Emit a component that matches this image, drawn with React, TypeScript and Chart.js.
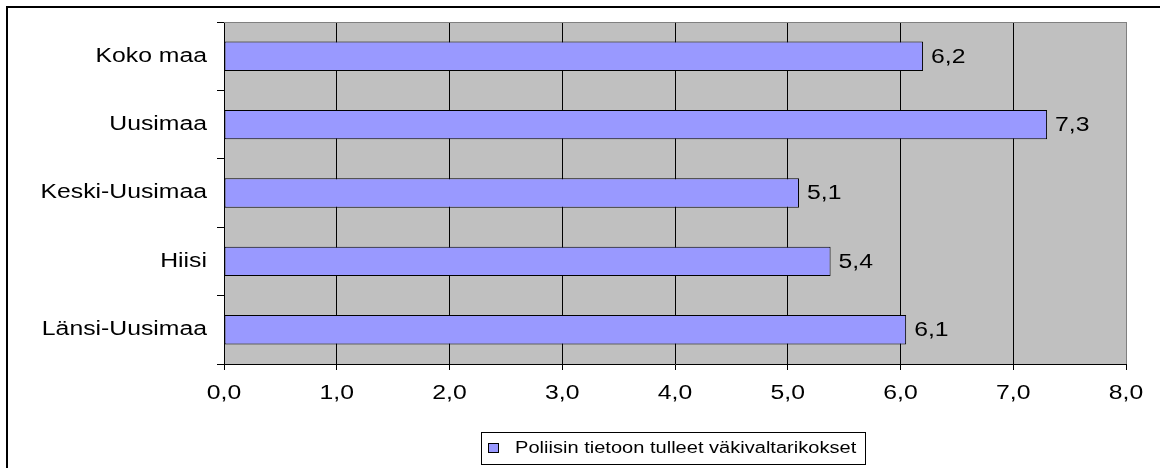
import React, { useEffect, useRef } from "react";
import { Chart, registerables } from "chart.js";

Chart.register(...registerables);

const categories = ["Koko maa", "Uusimaa", "Keski-Uusimaa", "Hiisi", "Länsi-Uusimaa"];
const seriesLabel = "Poliisin tietoon tulleet väkivaltarikokset";
const seriesValues = [6.2, 7.3, 5.1, 5.38, 6.05];
const xTicks = [0, 1, 2, 3, 4, 5, 6, 7, 8];

const FONT = "'Liberation Sans', Arial, sans-serif";
const STRETCH = 1.27;
const BAR = "#9999FF";

function fmt(v: number) {
  return (Math.round(v * 10 + 1e-9) / 10).toFixed(1).replace(".", ",");
}

function stretchedText(ctx: CanvasRenderingContext2D, text: string, x: number, y: number, align: CanvasTextAlign, size: number) {
  ctx.save();
  ctx.translate(x, y);
  ctx.scale(STRETCH, 1);
  ctx.font = `${size}px ${FONT}`;
  ctx.textAlign = align;
  ctx.textBaseline = "middle";
  ctx.fillStyle = "#000";
  ctx.fillText(text, 0, 0);
  ctx.restore();
}

const decorPlugin = {
  id: "decor",
  beforeDraw(chart: any) {
    const { ctx, chartArea: a } = chart;
    ctx.save();
    ctx.fillStyle = "#fff";
    ctx.fillRect(0, 0, chart.width, chart.height);
    ctx.fillStyle = "#C0C0C0";
    ctx.fillRect(a.left, a.top, a.right - a.left, a.bottom - a.top);
    ctx.restore();
  },
  afterDraw(chart: any) {
    const { ctx, chartArea: a } = chart;
    const xs = chart.scales.x;
    const ys = chart.scales.y;
    ctx.save();
    ctx.strokeStyle = "#808080";
    ctx.lineWidth = 1;
    ctx.beginPath();
    ctx.moveTo(a.left, Math.round(a.top) + 0.5);
    ctx.lineTo(a.right + 0.5, Math.round(a.top) + 0.5);
    ctx.stroke();
    ctx.strokeStyle = "#000";
    ctx.lineWidth = 2;
    ctx.beginPath();
    ctx.moveTo(7, chart.height + 5);
    ctx.lineTo(7, 7);
    ctx.lineTo(chart.width + 5, 7);
    ctx.stroke();
    ctx.restore();

    categories.forEach((c, i) => {
      stretchedText(ctx, c, 207, ys.getPixelForValue(i), "right", 19.5);
    });
    xTicks.forEach((v) => {
      stretchedText(ctx, fmt(v), xs.getPixelForValue(v), 393.5, "center", 19.5);
    });
    const meta = chart.getDatasetMeta(0);
    meta.data.forEach((bar: any, i: number) => {
      stretchedText(ctx, fmt(seriesValues[i]), bar.x + 8, bar.y + 1, "left", 19.5);
    });
    ctx.save();
    ctx.strokeStyle = "#000";
    ctx.lineWidth = 1;
    ctx.strokeRect(481.5, 432.5, 384, 32);
    ctx.fillStyle = BAR;
    ctx.fillRect(488.5, 443.5, 10, 9);
    ctx.strokeRect(488.5, 443.5, 10, 9);
    ctx.restore();
    stretchedText(ctx, seriesLabel, 515, 448.5, "left", 15.8);
  },
};

export default function App() {
  const ref = useRef<HTMLCanvasElement>(null);
  useEffect(() => {
    if (!ref.current) return;
    const chart = new Chart(ref.current, {
      type: "bar",
      data: {
        labels: categories,
        datasets: [
          {
            label: seriesLabel,
            data: seriesValues,
            backgroundColor: BAR,
            borderColor: "#000",
            borderWidth: 1,
            borderSkipped: false,
            barPercentage: 0.43,
            categoryPercentage: 1,
          },
        ],
      },
      options: {
        indexAxis: "y",
        animation: false,
        responsive: false,
        devicePixelRatio: 1,
        layout: { padding: { left: 0, top: 22, right: 34, bottom: 0 } },
        plugins: { legend: { display: false }, tooltip: { enabled: false } },
        scales: {
          x: {
            type: "linear",
            min: 0,
            max: 8,
            afterFit: (s: any) => {
              s.height = 104;
            },
            afterBuildTicks: (s: any) => {
              s.ticks = xTicks.map((v) => ({ value: v }));
            },
            ticks: { display: false },
            grid: {
              color: (c: any) => (c.tick && c.tick.value === 8 ? "#808080" : "#000"),
              tickColor: "#000",
              lineWidth: 1,
              tickLength: 6,
              drawTicks: true,
            },
            border: { color: "#000", width: 1 },
          },
          y: {
            type: "category",
            offset: true,
            afterFit: (s: any) => {
              s.width = 224;
            },
            ticks: { display: false },
            grid: {
              offset: true,
              drawOnChartArea: false,
              drawTicks: true,
              tickLength: 7,
              color: "#000",
            },
            border: { color: "#000", width: 1 },
          },
        },
      },
      plugins: [decorPlugin],
    } as any);
    return () => chart.destroy();
  }, []);
  return (
    <div style={{ position: "fixed", left: 0, top: 0, width: 1160, height: 468, background: "#fff" }}>
      <canvas ref={ref} width={1160} height={468} style={{ display: "block" }} />
    </div>
  );
}
